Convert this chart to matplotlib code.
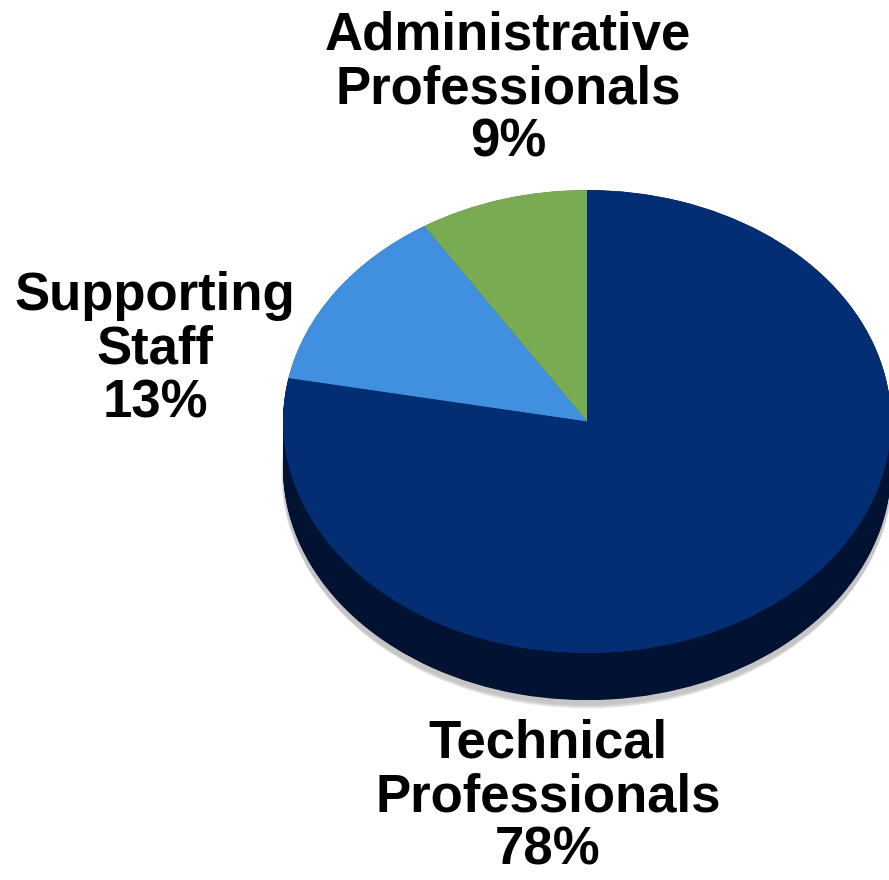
import matplotlib.pyplot as plt
import numpy as np

# 数据
labels = ['Administrative\nProfessionals', 'Supporting\nStaff', 'Technical\nProfessionals']
values = [9, 13, 78]
top_colors = ['#78ab52', '#418fdf', '#042e74']
side_colors = ['#4d7233', '#285f9c', '#021233']

fig = plt.figure(figsize=(8.89, 8.80), dpi=100)
ax = fig.add_axes([0, 0, 1, 1])

depth = 0.203

# 阴影
for k, a in enumerate([0.06, 0.08, 0.10]):
    ax.pie(values, colors=['#000000'] * 3, startangle=90, counterclock=True,
           center=(0.0, -depth - 0.015 - 0.01 * k), radius=1.0 + 0.004 * (2 - k),
           wedgeprops=dict(alpha=a, linewidth=0))

# 侧面（多层叠加）
for d in np.linspace(depth, 0.0, 40):
    ax.pie(values, colors=side_colors, startangle=90, counterclock=True,
           center=(0.0, -d), wedgeprops=dict(linewidth=0))

# 顶面
ax.pie(values, colors=top_colors, startangle=90, counterclock=True,
       wedgeprops=dict(linewidth=0))

ax.set_aspect('auto')
ax.set_xlim(-1.931, 0.993)
ax.set_ylim(-1.980, 1.821)
ax.axis('off')

# 标签
pos = [(508, 89), (155, 350), (548, 797)]
for lab, v, (px, py) in zip(labels, values, pos):
    fig.text(px / 889, 1 - py / 880, f'{lab}\n{v}%', ha='center', va='center',
             fontsize=38, fontweight='bold', family='Liberation Sans',
             linespacing=1.1)

plt.savefig('out.png', dpi=100)
